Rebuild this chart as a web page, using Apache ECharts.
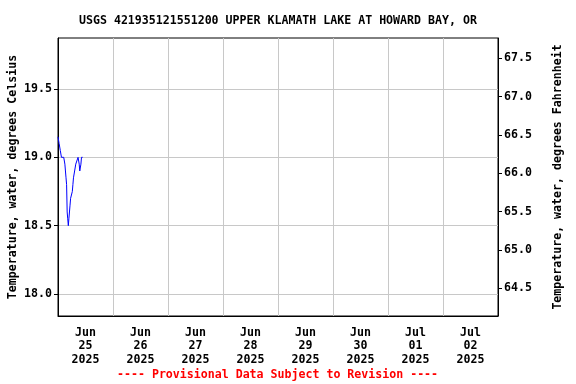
<!DOCTYPE html>
<html>
<head>
<meta charset="utf-8">
<script src="https://cdn.jsdelivr.net/npm/echarts@6/dist/echarts.min.js"></script>
<style>html,body{margin:0;padding:0;background:#fff}#c{width:576px;height:384px}</style>
</head>
<body>
<div id="c"></div>
<script>
// Data (°C), 15-minute readings starting 2025-06-25 00:00
var startTime = Date.UTC(2025, 5, 25, 0, 0);
var tempC = [19.15, 19.15, 19.1, 19.1, 19.05, 19.05, 19.0, 19.0, 19.0, 19.0, 19.0, 19.0,
  18.95, 18.9, 18.85, 18.8, 18.6, 18.55, 18.5, 18.55, 18.6, 18.65, 18.7, 18.7,
  18.7, 18.75, 18.8, 18.85, 18.85, 18.9, 18.9, 18.95, 18.95, 18.95, 18.95, 19.0,
  19.0, 18.95, 18.9, 18.9, 18.95, 19.0, 19.0, 19.0];
var dayLabels = ['Jun\n25\n2025', 'Jun\n26\n2025', 'Jun\n27\n2025', 'Jun\n28\n2025',
  'Jun\n29\n2025', 'Jun\n30\n2025', 'Jul\n01\n2025', 'Jul\n02\n2025'];
var cTicks = [18.0, 18.5, 19.0, 19.5];
var fTicks = [64.5, 65.0, 65.5, 66.0, 66.5, 67.0, 67.5];
var cMin = 17.839, cMax = 19.873;
var fMin = 64.139, fMax = 67.765;
var titleText = 'USGS 421935121551200 UPPER KLAMATH LAKE AT HOWARD BAY, OR';
var footerText = '---- Provisional Data Subject to Revision ----';

var DAY = 86400000;
var seriesData = tempC.map(function (v, i) { return [startTime + i * 15 * 60000, v]; });
var font = 'DejaVu Sans Mono';

var chart = echarts.init(document.getElementById('c'), null, {renderer: 'canvas'});
chart.setOption({
  animation: false,
  backgroundColor: '#fff',
  title: [
    {text: titleText, left: 79, top: 15, padding: 0,
     textStyle: {fontFamily: font, fontSize: 11.6, fontWeight: 'bold', color: '#000'}},
    {text: footerText, left: 117, top: 369, padding: 0,
     textStyle: {fontFamily: font, fontSize: 11.6, fontWeight: 'bold', color: '#ff0000'}}
  ],
  grid: {left: 58, right: 78, top: 38, bottom: 68, show: true, borderColor: '#000', borderWidth: 1,
         backgroundColor: 'transparent', containLabel: false, outerBoundsMode: 'none'},
  xAxis: [
    {type: 'value', min: startTime, max: startTime + 8 * DAY, interval: DAY, position: 'bottom',
     axisLine: {show: true, lineStyle: {color: '#000'}}, axisTick: {show: false}, axisLabel: {show: false},
     splitLine: {show: true, lineStyle: {color: '#c8c8c8', width: 1}}},
    {type: 'category', data: dayLabels, boundaryGap: true, position: 'bottom',
     axisLine: {show: false}, axisTick: {show: false}, splitLine: {show: false},
     axisLabel: {show: true, interval: 0, margin: 10, lineHeight: 13.5, color: '#000',
       fontFamily: font, fontSize: 11.6, fontWeight: 'bold'}}
  ],
  yAxis: [
    {type: 'value', min: cMin, max: cMax, position: 'left',
     name: 'Temperature, water, degrees Celsius', nameLocation: 'middle', nameGap: 39, nameMoveOverlap: false,
     nameTextStyle: {fontFamily: font, fontSize: 11.6, fontWeight: 'bold', color: '#000'},
     axisLine: {show: true, lineStyle: {color: '#000'}},
     axisTick: {show: true, length: 4, customValues: cTicks, lineStyle: {color: '#000'}},
     axisLabel: {customValues: cTicks, margin: 6, color: '#000', fontFamily: font, fontSize: 11.6, fontWeight: 'bold',
       formatter: function (v) { return v.toFixed(1); }},
     splitLine: {show: true, lineStyle: {color: '#c8c8c8', width: 1}}},
    {type: 'value', min: fMin, max: fMax, position: 'right',
     name: 'Temperature, water, degrees Fahrenheit', nameLocation: 'middle', nameGap: 54, nameMoveOverlap: false,
     nameTextStyle: {fontFamily: font, fontSize: 11.6, fontWeight: 'bold', color: '#000'},
     axisLine: {show: true, lineStyle: {color: '#000'}},
     axisTick: {show: true, length: 4, customValues: fTicks, lineStyle: {color: '#000'}},
     axisLabel: {customValues: fTicks, margin: 6, color: '#000', fontFamily: font, fontSize: 11.6, fontWeight: 'bold',
       formatter: function (v) { return v.toFixed(1); }},
     splitLine: {show: false}}
  ],
  series: [{
    type: 'line', xAxisIndex: 0, yAxisIndex: 0, data: seriesData, showSymbol: false,
    lineStyle: {color: '#0000ff', width: 1}, itemStyle: {color: '#0000ff'}
  }]
});
</script>
</body>
</html>
